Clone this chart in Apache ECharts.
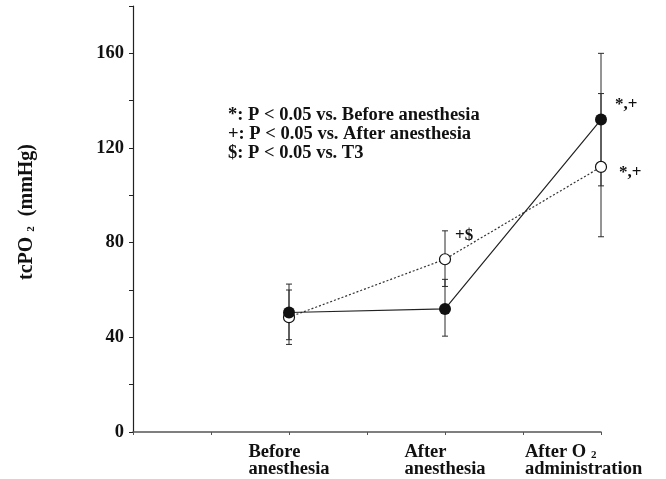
<!DOCTYPE html>
<html>
<head>
<meta charset="utf-8">
<script src="https://cdn.jsdelivr.net/npm/echarts@6/dist/echarts.min.js"></script>
<style>
html,body{margin:0;padding:0;background:#fff;}
#c{width:666px;height:479px;}
</style>
</head>
<body>
<div id="c"></div>
<script>
// ---- data ----
var categories = ['Before anesthesia', 'After anesthesia', 'After O2 administration'];
var xPos = [2, 4, 6];
var filledMean = [50.5, 52, 132];
var filledLow  = [39, 40.5, 104];
var filledHigh = [62.5, 64.5, 160];
var openMean = [48.5, 73, 112];
var openLow  = [37, 61.5, 82.5];
var openHigh = [60, 85, 143];
var filledNotes = ['', '', '*,+'];
var openNotes = ['', '+$', '*,+'];
var yTicks = [0, 40, 80, 120, 160];
var legendLines = ['*: P < 0.05 vs. Before anesthesia', '+: P < 0.05 vs. After anesthesia', '$: P < 0.05 vs. T3'];

// ---- styling ----
var FONT = '"Liberation Serif", "Times New Roman", serif';
var filledNoteOffset = [null, null, [3, -15]];
var openNoteOffset = [null, [-1, -24], [7, 6]];

var chart = echarts.init(document.getElementById('c'), null, {renderer: 'canvas'});

function lineData(means, notes, offs) {
  return means.map(function (v, i) {
    var d = {value: [xPos[i], v]};
    if (notes[i]) {
      d.label = {show: true, formatter: notes[i], position: 'right', offset: offs[i],
        fontFamily: FONT, fontWeight: 'bold', fontSize: 17, color: '#111'};
    }
    return d;
  });
}
function errData(lo, hi) {
  return lo.map(function (v, i) { return [xPos[i], v, hi[i]]; });
}
function renderErr(params, api) {
  var x = api.value(0), lo = api.value(1), hi = api.value(2);
  var p1 = api.coord([x, lo]), p2 = api.coord([x, hi]);
  var c = 3;
  var st = {stroke: '#2a2a2a', lineWidth: 1};
  return {type: 'group', children: [
    {type: 'line', shape: {x1: p1[0], y1: p1[1], x2: p2[0], y2: p2[1]}, style: st},
    {type: 'line', shape: {x1: p1[0] - c, y1: p1[1], x2: p1[0] + c, y2: p1[1]}, style: st},
    {type: 'line', shape: {x1: p2[0] - c, y1: p2[1], x2: p2[0] + c, y2: p2[1]}, style: st}
  ]};
}

var labelMap = {};
labelMap[xPos[0]] = '{l|Before}\n{l|anesthesia}';
labelMap[xPos[1]] = '{l|After}\n{l|anesthesia}';
labelMap[xPos[2]] = '{l|After O}{sub|2}\n{w|administration}';

var option = {
  animation: false,
  backgroundColor: '#fff',
  title: {
    text: legendLines.join('\n'),
    left: 223, top: 101,
    textStyle: {fontFamily: FONT, fontWeight: 'bold', fontSize: 18.5, lineHeight: 19, color: '#111'}
  },
  grid: {left: 133, right: 65, top: 6, bottom: 47, outerBoundsMode: 'none', containLabel: false},
  xAxis: {
    type: 'value', min: 0, max: 6, interval: 1,
    splitLine: {show: false},
    axisLine: {show: true, lineStyle: {color: '#555', width: 1.5}},
    axisTick: {show: true, length: 3, lineStyle: {color: '#555'}},
    axisLabel: {
      margin: 12,
      showMaxLabel: true,
      hideOverlap: false,
      formatter: function (v) { return labelMap[v] || ''; },
      rich: {
        l: {align: 'left', fontFamily: FONT, fontWeight: 'bold', fontSize: 18.5, lineHeight: 17, color: '#111'},
        w: {align: 'left', width: 152, fontFamily: FONT, fontWeight: 'bold', fontSize: 18.5, lineHeight: 17, color: '#111'},
        sub: {align: 'left', fontFamily: FONT, fontWeight: 'bold', fontSize: 11, verticalAlign: 'bottom', padding: [0, 0, 0, 5], color: '#111'}
      }
    }
  },
  yAxis: {
    type: 'value', min: 0, max: 180, interval: 20,
    splitLine: {show: false},
    axisLine: {show: true, lineStyle: {color: '#222', width: 1.2}},
    axisTick: {show: true, length: 4, lineStyle: {color: '#222'}},
    axisLabel: {
      margin: 9, fontFamily: FONT, fontWeight: 'bold', fontSize: 18.5, color: '#111',
      formatter: function (v) { return yTicks.indexOf(v) >= 0 ? String(v) : ''; }
    },
    name: '{m|tcPO}{s|2}{m| (mmHg)}',
    nameLocation: 'middle',
    nameGap: 96,
    nameTextStyle: {
      fontFamily: FONT, fontWeight: 'bold', fontSize: 20, color: '#111', padding: [0, 0, 0, 14],
      rich: {
        m: {fontFamily: FONT, fontWeight: 'bold', fontSize: 20, color: '#111'},
        s: {fontFamily: FONT, fontWeight: 'bold', fontSize: 11, color: '#111', verticalAlign: 'bottom', padding: [0, 5, 0, 5]}
      }
    }
  },
  series: [
    {type: 'custom', name: 'errFilled', renderItem: renderErr, data: errData(filledLow, filledHigh),
     encode: {x: 0, y: [1, 2]}, z: 1},
    {type: 'custom', name: 'errOpen', renderItem: renderErr, data: errData(openLow, openHigh),
     encode: {x: 0, y: [1, 2]}, z: 1},
    {type: 'line', name: 'open', data: lineData(openMean, openNotes, openNoteOffset),
     symbol: 'circle', symbolSize: 11,
     lineStyle: {color: '#333', width: 1.2, type: [2, 2]},
     itemStyle: {color: '#fff', borderColor: '#111', borderWidth: 1.2},
     z: 3},
    {type: 'line', name: 'filled', data: lineData(filledMean, filledNotes, filledNoteOffset),
     symbol: 'circle', symbolSize: 12,
     lineStyle: {color: '#222', width: 1.2},
     itemStyle: {color: '#111', borderColor: '#111', borderWidth: 0},
     z: 4}
  ]
};
chart.setOption(option);
</script>
</body>
</html>
